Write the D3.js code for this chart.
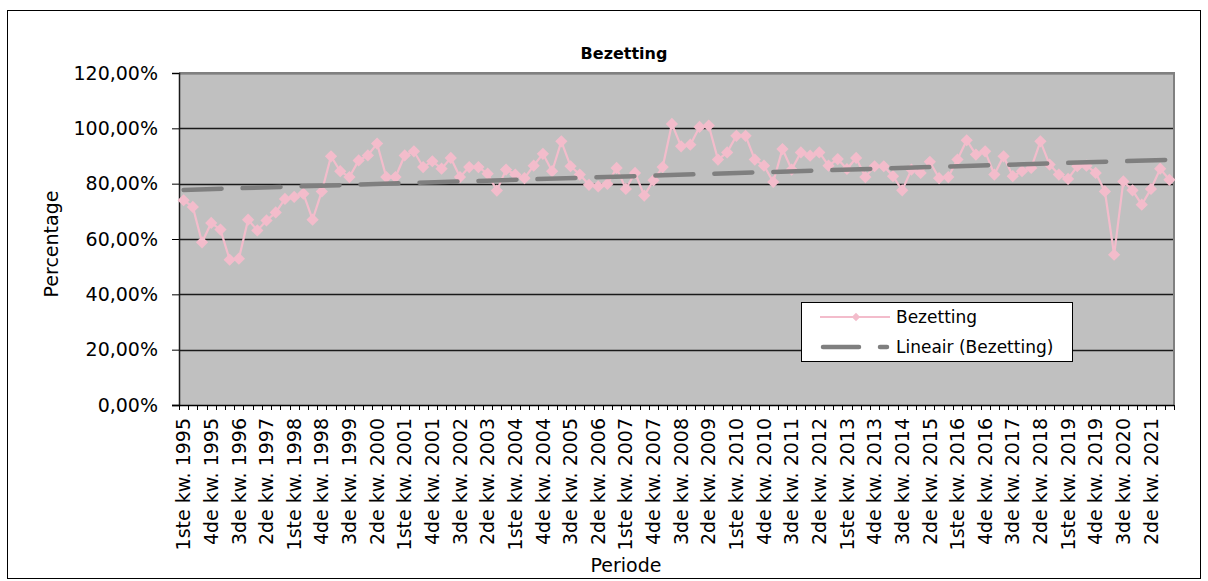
<!DOCTYPE html>
<html>
<head>
    <title>Bezetting</title>
    <script src="https://d3js.org/d3.v7.min.js"></script>
    <style>
        body { margin: 0; background: #fff; }
        svg text { font-family: "DejaVu Sans", Verdana, sans-serif; fill: #000; }
        .tick-label { font-size: 19px; }
        .axis-title { font-size: 19px; }
        .legend-text { font-size: 17px; }
        .title { font-size: 16px; font-weight: bold; }
    </style>
</head>
<body>
<div id="chart"></div>
<script>
    // Data: quarterly occupancy 1995 - 2021
    const quarterNames = ["1ste kw.", "2de kw.", "3de kw.", "4de kw."];
    const years = d3.range(1995, 2022);
    const categories = years.flatMap(y => quarterNames.map(q => q + " " + y));

    const bezetting = [
        74.0, 71.6, 58.8, 65.8, 63.4, 52.5, 52.9, 67.0, 63.1, 66.7,
        69.6, 74.5, 75.2, 76.4, 67.0, 77.2, 89.9, 84.5, 82.4, 88.4,
        90.2, 94.5, 82.4, 82.4, 90.2, 91.7, 86.0, 88.1, 85.4, 89.3,
        82.4, 86.0, 86.0, 83.6, 77.5, 85.1, 83.3, 82.0, 86.5, 90.8,
        84.5, 95.3, 86.3, 83.3, 79.6, 79.0, 79.9, 85.7, 78.1, 83.9,
        75.7, 81.2, 86.0, 101.6, 93.5, 94.1, 100.5, 101.0, 88.7, 91.3,
        97.3, 97.3, 88.7, 86.5, 80.6, 92.5, 85.1, 91.3, 90.1, 91.3,
        86.5, 88.9, 85.3, 89.3, 82.4, 86.3, 86.3, 82.7, 77.6, 85.1,
        83.9, 87.9, 82.0, 82.4, 88.7, 95.7, 90.5, 91.7, 83.3, 89.9,
        82.7, 84.5, 85.7, 95.3, 86.9, 83.3, 81.7, 86.3, 86.5, 83.9,
        77.2, 54.3, 80.8, 77.6, 72.4, 78.1, 85.4, 81.4
    ].map(v => v / 100);

    const yTicks = [0, 0.2, 0.4, 0.6, 0.8, 1.0, 1.2];

    const width = 1208, height = 581;
    const plot = { left: 179, right: 1174, top: 73, bottom: 405 };

    const svg = d3.select("#chart").append("svg")
        .attr("width", width)
        .attr("height", height);

    // outer chart border
    svg.append("rect")
        .attr("x", 7.5).attr("y", 10.5)
        .attr("width", 1193).attr("height", 568)
        .attr("fill", "#fff")
        .attr("stroke", "#000")
        .attr("stroke-width", 1);

    const x = d3.scaleBand()
        .domain(categories)
        .range([plot.left, plot.right]);

    const y = d3.scaleLinear()
        .domain([0, 1.2])
        .range([plot.bottom, plot.top]);

    const nl = d3.formatLocale({ decimal: ",", thousands: ".", grouping: [3], currency: ["", ""] });
    const pct = nl.format(".2%");

    // plot background
    svg.append("rect")
        .attr("x", plot.left).attr("y", plot.top)
        .attr("width", plot.right - plot.left)
        .attr("height", plot.bottom - plot.top)
        .attr("fill", "#c0c0c0");

    // gridlines
    svg.append("g")
        .selectAll("line")
        .data(yTicks.slice(1))
        .enter().append("line")
        .attr("x1", plot.left).attr("x2", plot.right)
        .attr("y1", d => Math.round(y(d)) + 0.5)
        .attr("y2", d => Math.round(y(d)) + 0.5)
        .attr("stroke", "#1a1a1a")
        .attr("stroke-width", 1.3);

    // plot border right / top (grey)
    svg.append("path")
        .attr("d", `M${plot.left},${plot.top}H${plot.right}V${plot.bottom}`)
        .attr("fill", "none")
        .attr("stroke", "#808080")
        .attr("stroke-width", 2);

    // y axis
    const yAxis = svg.append("g")
        .attr("transform", `translate(${plot.left},0)`)
        .call(d3.axisLeft(y).tickValues(yTicks).tickFormat(pct).tickSize(7).tickPadding(14));
    yAxis.select(".domain").attr("stroke", "#1a1a1a").attr("stroke-width", 1.5);
    yAxis.selectAll(".tick line").attr("stroke", "#000");
    yAxis.selectAll(".tick text")
        .attr("class", "tick-label")
        .attr("font-family", null).attr("font-size", null);

    // x axis: ticks at category boundaries
    const xAxis = svg.append("g");
    xAxis.append("line")
        .attr("x1", plot.left - 7).attr("x2", plot.right)
        .attr("y1", plot.bottom + 0.5).attr("y2", plot.bottom + 0.5)
        .attr("stroke", "#000").attr("stroke-width", 1.5);
    xAxis.selectAll(".xt")
        .data(categories.concat([null]))
        .enter().append("line")
        .attr("class", "xt")
        .attr("x1", (d, i) => Math.round(plot.left + i * x.step()) + 0.5)
        .attr("x2", (d, i) => Math.round(plot.left + i * x.step()) + 0.5)
        .attr("y1", plot.bottom)
        .attr("y2", plot.bottom + 5)
        .attr("stroke", "#000");
    xAxis.selectAll(".xl")
        .data(categories.filter((d, i) => i % 3 === 0))
        .enter().append("text")
        .attr("class", "tick-label")
        .attr("text-anchor", "end")
        .attr("dy", "0.35em")
        .attr("transform", d => `translate(${x(d) + x.bandwidth() / 2},${plot.bottom + 13}) rotate(-90)`)
        .text(d => d);

    // linear trend
    const xi = d3.range(bezetting.length);
    const mx = d3.mean(xi), my = d3.mean(bezetting);
    const slope = d3.sum(xi, i => (i - mx) * (bezetting[i] - my)) / d3.sum(xi, i => (i - mx) * (i - mx));
    const icpt = my - slope * mx;
    const cx = (d, i) => x(categories[i]) + x.bandwidth() / 2;

    // data line
    svg.append("path")
        .datum(bezetting)
        .attr("fill", "none")
        .attr("stroke", "#f3bccb")
        .attr("stroke-width", 2.2)
        .attr("d", d3.line().x(cx).y(d => y(d)));

    svg.append("g")
        .selectAll("path")
        .data(bezetting)
        .enter().append("path")
        .attr("d", d3.symbol(d3.symbolDiamond2, 95))
        .attr("transform", (d, i) => `translate(${cx(d, i)},${y(d)})`)
        .attr("fill", "#f3bccb");

    const trend = [0, bezetting.length - 1];
    svg.append("path")
        .datum(trend)
        .attr("fill", "none")
        .attr("stroke", "#7f7f7f")
        .attr("stroke-width", 4.5)
        .attr("stroke-linecap", "round")
        .attr("stroke-dasharray", "38,21")
        .attr("d", d3.line().x(i => x(categories[i]) + x.bandwidth() / 2).y(i => y(icpt + slope * i)));

    // titles
    svg.append("text")
        .attr("class", "title")
        .attr("x", 624).attr("y", 59)
        .attr("text-anchor", "middle")
        .text("Bezetting");

    svg.append("text")
        .attr("class", "axis-title")
        .attr("x", 626).attr("y", 572)
        .attr("text-anchor", "middle")
        .text("Periode");

    svg.append("text")
        .attr("class", "axis-title")
        .attr("transform", "translate(58,244) rotate(-90)")
        .attr("text-anchor", "middle")
        .text("Percentage");

    // legend
    const lg = svg.append("g").attr("transform", "translate(801,302)");
    lg.append("rect")
        .attr("x", 0.5).attr("y", 0.5)
        .attr("width", 271).attr("height", 59)
        .attr("fill", "#fff").attr("stroke", "#000");
    lg.append("line")
        .attr("x1", 19).attr("x2", 89).attr("y1", 15).attr("y2", 15)
        .attr("stroke", "#f3bccb").attr("stroke-width", 2);
    lg.append("path")
        .attr("d", d3.symbol(d3.symbolDiamond2, 45))
        .attr("transform", "translate(55,15)")
        .attr("fill", "#f3bccb");
    lg.append("line")
        .attr("x1", 22).attr("x2", 86).attr("y1", 45).attr("y2", 45)
        .attr("stroke", "#7f7f7f").attr("stroke-width", 4.5)
        .attr("stroke-linecap", "round")
        .attr("stroke-dasharray", "36,21");
    lg.append("text").attr("class", "legend-text")
        .attr("x", 95).attr("y", 15).attr("dy", "0.35em").text("Bezetting");
    lg.append("text").attr("class", "legend-text")
        .attr("x", 95).attr("y", 45).attr("dy", "0.35em").text("Lineair (Bezetting)");
</script>
</body>
</html>
